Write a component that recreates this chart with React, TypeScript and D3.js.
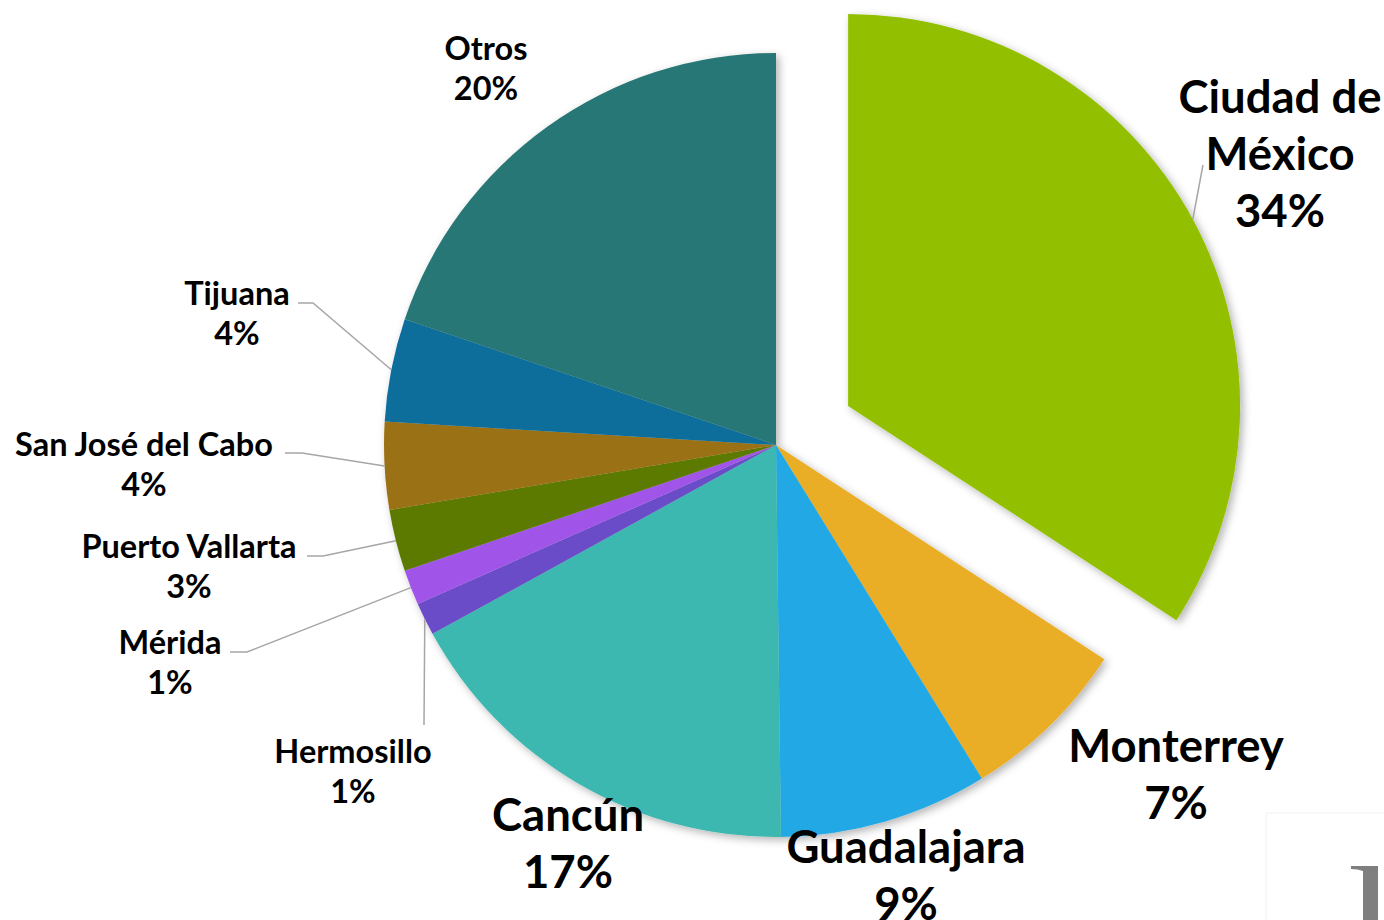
import React from 'react';
import * as d3 from 'd3';

// shares (percent)
const cities = ['Ciudad de México', 'Monterrey', 'Guadalajara', 'Cancún', 'Hermosillo', 'Mérida', 'Puerto Vallarta', 'San José del Cabo', 'Tijuana', 'Otros'];
const shares = [34.2, 7.0, 8.6, 17.2, 1.35, 1.45, 2.55, 3.6, 4.25, 19.8];
const colors = ['#92C000', '#E9AD26', '#23A9E5', '#3CB8B0', '#6B4CC8', '#A055E8', '#5C7A00', '#9B7114', '#0E6E9C', '#267775'];

// label layout: centre x, first baseline, big font?
const labelLayout: Record<string, { x: number; y: number; big: boolean; lines?: string[] }> = {
  'Ciudad de México': { x: 1280, y: 113, big: true, lines: ['Ciudad de', 'México'] },
  'Monterrey': { x: 1176, y: 762, big: true },
  'Guadalajara': { x: 906, y: 863, big: true },
  'Cancún': { x: 568, y: 831, big: true },
  'Otros': { x: 486, y: 60, big: false },
  'Tijuana': { x: 237, y: 305, big: false },
  'San José del Cabo': { x: 144, y: 456, big: false },
  'Puerto Vallarta': { x: 189, y: 558, big: false },
  'Mérida': { x: 170, y: 654, big: false },
  'Hermosillo': { x: 353, y: 763, big: false },
};

// leader line start points (label side)
const leaders: Record<string, [number, number][]> = {
  'Ciudad de México': [[1203, 165]],
  'Tijuana': [[298, 303], [313, 303]],
  'San José del Cabo': [[285, 453], [302, 453]],
  'Puerto Vallarta': [[307, 556], [323, 556]],
  'Mérida': [[230, 652], [247, 652]],
  'Hermosillo': [[424, 725]],
};

const W = 1384;
const H = 920;
const cx = 776;
const cy = 445;
const R = 392;
const explode = 82;

export default function App() {
  const data = cities.map((c, i) => ({ city: c, value: shares[i], color: colors[i] }));
  const pie = d3.pie<any>().value(d => d.value).sort(null);
  const arcs = pie(data);
  const arc = d3.arc<any>().innerRadius(0).outerRadius(R);

  const offsetOf = (a: any) => {
    if (a.index !== 0) return [0, 0];
    const m = (a.startAngle + a.endAngle) / 2;
    return [Math.sin(m) * explode, -Math.cos(m) * explode];
  };

  const fontFamily = 'Lato, "Open Sans", sans-serif';

  return (
    <svg width={W} height={H} style={{ position: 'absolute', left: 0, top: 0, background: '#fff' }}>
      <defs>
        <filter id="shadow" x="-10%" y="-10%" width="120%" height="120%">
          <feDropShadow dx="3" dy="3" stdDeviation="4" floodColor="#000" floodOpacity="0.3" />
        </filter>
      </defs>
      <rect width={W} height={H} fill="#fff" />
      {/* stray slide artefacts bottom right */}
      <path d="M1266,920 L1266,813 L1384,813" fill="none" stroke="#f2f2f2" strokeWidth={1} />
      <path d="M1351,866 L1378,866 L1378,920 L1363,920 L1363,871 Q1358,869 1351,869 Z" fill="#7f7f7f" />

      <g transform={`translate(${cx},${cy})`} filter="url(#shadow)">
        {arcs.map(a => {
          const [dx, dy] = offsetOf(a);
          return <path key={a.data.city} d={arc(a) as string} fill={a.data.color} transform={`translate(${dx},${dy})`} />;
        })}
      </g>

      {arcs.map(a => {
        const pts = leaders[a.data.city];
        if (!pts) return null;
        const [dx, dy] = offsetOf(a);
        const m = (a.startAngle + a.endAngle) / 2;
        const end: [number, number] = [cx + dx + Math.sin(m) * R, cy + dy - Math.cos(m) * R];
        const all = [...pts, end];
        return (
          <polyline key={'l' + a.data.city} points={all.map(p => p.join(',')).join(' ')}
            fill="none" stroke="#A6A6A6" strokeWidth={1.5} />
        );
      })}

      {arcs.map(a => {
        const lay = labelLayout[a.data.city];
        const size = lay.big ? 45.5 : 32.5;
        const gap = lay.big ? 57 : 40;
        const lines = [...(lay.lines || [a.data.city]), `${Math.round(a.data.value)}%`];
        return (
          <text key={'t' + a.data.city} x={lay.x} y={lay.y} textAnchor="middle" fontFamily={fontFamily}
            fontWeight={700} fontSize={size} fill="#000">
            {lines.map((ln, i) => (
              <tspan key={i} x={lay.x} y={lay.y + i * gap}>{ln}</tspan>
            ))}
          </text>
        );
      })}
    </svg>
  );
}
